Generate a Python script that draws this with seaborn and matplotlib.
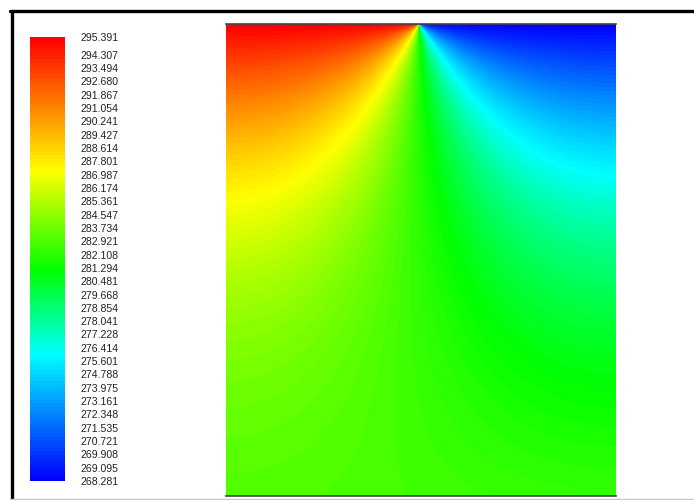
import numpy as np
import pandas as pd
import matplotlib
matplotlib.use("Agg")
import matplotlib.pyplot as plt
from matplotlib.colors import LinearSegmentedColormap
from matplotlib.lines import Line2D
import seaborn as sns

# Top wall temperatures (K): hot on the left part, cold on the right part
T_HOT = 295.391
T_COLD = 268.281
SPLIT = 0.495          # where the top wall switches from hot to cold (fraction of width)
DEPTH = 1.0            # slab depth / width
BIOT = 10.0            # bottom wall exchange coefficient (per unit width)
T_BOTTOM = 282.8       # ambient temperature below the bottom wall (K)

# Legend labels
legend_values = [295.391, 294.307, 293.494, 292.680, 291.867, 291.054, 290.241,
                 289.427, 288.614, 287.801, 286.987, 286.174, 285.361, 284.547,
                 283.734, 282.921, 282.108, 281.294, 280.481, 279.668, 278.854,
                 278.041, 277.228, 276.414, 275.601, 274.788, 273.975, 273.161,
                 272.348, 271.535, 270.721, 269.908, 269.095, 268.281]
legend_labels = ["295.391", "294.307", "293.494", "292.680", "291.867", "291.054",
                 "290.241", "289.427", "288.614", "287.801", "286.987", "286.174",
                 "285.361", "284.547", "283.734", "282.921", "282.108", "281.294",
                 "280.481", "279.668", "278.854", "278.041", "277.228", "276.414",
                 "275.601", "274.788", "273.975", "273.161", "272.348", "271.535",
                 "270.721", "269.908", "269.095", "268.281"]

# Steady conduction: prescribed top wall, insulated sides, convective bottom.
nx, ny = 390, 472
x = (np.arange(nx) + 0.5) / nx
y = DEPTH - (np.arange(ny) + 0.5) / ny * DEPTH     # first row is the top wall
dT = T_HOT - T_COLD
t_mean_top = T_COLD + dT * SPLIT
t_mean_bottom = (t_mean_top + BIOT * DEPTH * T_BOTTOM) / (1.0 + BIOT * DEPTH)
mean_profile = t_mean_bottom + (t_mean_top - t_mean_bottom) * y / DEPTH
field = np.repeat(mean_profile[:, None], nx, axis=1)
for k in range(1, 1800):
    a = k * np.pi
    c = BIOT / a
    coef = 2.0 * dT * np.sin(a * SPLIT) / a
    ratio = (np.exp(a * (y - DEPTH)) * ((1 + c) + (1 - c) * np.exp(-2 * a * y))
             / ((1 + c) + (1 - c) * np.exp(-2 * a * DEPTH)))
    field += coef * np.outer(ratio, np.cos(a * x))

temperature = pd.DataFrame(field)

cmap = LinearSegmentedColormap.from_list(
    "rainbow5",
    [(0.0, (0, 0, 1)), (0.284, (0, 1, 1)), (0.475, (0, 1, 0)),
     (0.70, (1, 1, 0)), (1.0, (1, 0, 0))],
    N=120,
)

sns.set_style("white")
plt.rcParams["font.family"] = ["Liberation Sans", "DejaVu Sans"]

fig = plt.figure(figsize=(6.94, 5.0), dpi=100)
ax = fig.add_axes([226 / 694, 4 / 500, 390 / 694, 472 / 500])
cax = fig.add_axes([30 / 694, 19 / 500, 35 / 694, 444 / 500])

sns.heatmap(temperature, ax=ax, cmap=cmap, vmin=T_COLD, vmax=T_HOT,
            cbar=True, cbar_ax=cax, xticklabels=False, yticklabels=False,
            rasterized=True)

for side in ("top", "bottom"):
    ax.spines[side].set_visible(True)
    ax.spines[side].set_color("#444444")
    ax.spines[side].set_linewidth(1.2)
for side in ("left", "right"):
    ax.spines[side].set_visible(False)

cbar = ax.collections[0].colorbar
cbar.outline.set_visible(False)
cbar.set_ticks(legend_values)
cbar.set_ticklabels(legend_labels)
cax.tick_params(axis="y", length=0, pad=11, labelsize=7.6, labelcolor="#222222")

# Window frame
fig.add_artist(Line2D([10 / 694, 1.0], [1 - 11 / 500, 1 - 11 / 500],
                      color="black", linewidth=2.4, transform=fig.transFigure))
fig.add_artist(Line2D([11.5 / 694, 11.5 / 694], [0.0, 1 - 11 / 500],
                      color="black", linewidth=2.4, transform=fig.transFigure))
fig.add_artist(Line2D([10 / 694, 1.0], [1.2 / 500, 1.2 / 500],
                      color="#c8c8c8", linewidth=1.0, transform=fig.transFigure))

fig.savefig("out.png", dpi=100)
